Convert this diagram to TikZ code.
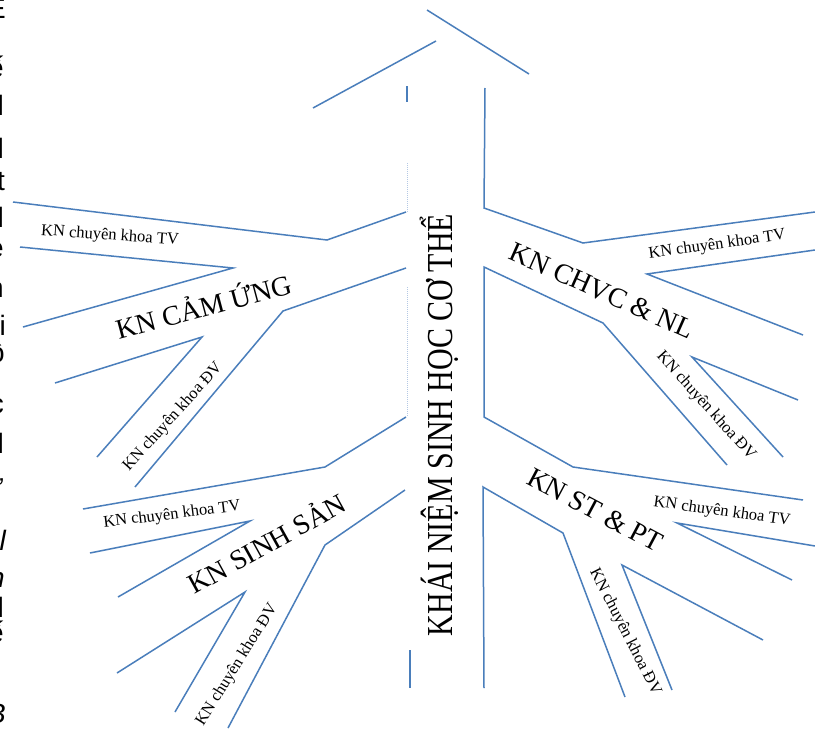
\documentclass[tikz,border=0pt]{standalone}
\usepackage{fontspec}
\setmainfont{Liberation Serif}
\newfontfamily\edgefont{Liberation Sans}
\definecolor{lineblue}{HTML}{4A7EBB}
\definecolor{faintblue}{HTML}{B4C8E4}
\begin{document}
\begin{tikzpicture}[x=1pt,y=-1pt,
  edge/.style={draw=lineblue, line width=1.5pt, line join=miter},
  faint/.style={draw=faintblue, line width=1pt, dash pattern=on 1pt off 1pt},
  small/.style={font=\fontsize{16.5}{18}\selectfont, inner sep=0pt},
  big/.style={font=\fontsize{28}{30}\selectfont, inner sep=0pt},
  edgetxt/.style={font=\edgefont\fontsize{28}{30}\selectfont, anchor=base east, inner sep=0pt}]
\path[use as bounding box, fill=white] (0,0) rectangle (815,731);

% clipped text column at the left edge
\node[edgetxt] (c1) at (6,18) {E};
\node[edgetxt] (c2) at (4,77) {ế};
\node[edgetxt] (c3) at (4,115) {l};
\node[edgetxt] (c4) at (4,158) {l};
\node[edgetxt] (c5) at (5,190) {t};
\node[edgetxt] (c6) at (4,227) {l};
\node[edgetxt] (c7) at (4,257) {e};
\node[edgetxt] (c8) at (4,297) {h};
\node[edgetxt] (c9) at (6,335) {i};
\node[edgetxt] (c10) at (5,362) {ồ};
\node[edgetxt] (c11) at (4,413) {c};
\node[edgetxt] (c12) at (4,453) {l};
\node[edgetxt] (c13) at (4,493) {ứ};
\node[edgetxt,font=\edgefont\itshape\fontsize{28}{30}\selectfont] (c14) at (6,550) {l};
\node[edgetxt,font=\edgefont\itshape\fontsize{28}{30}\selectfont] (c15) at (5,587) {n};
\node[edgetxt] (c16) at (4,617) {l};
\node[edgetxt] (c17) at (4,642) {ế};
\node[edgetxt,font=\edgefont\itshape\fontsize{28}{30}\selectfont] (c18) at (6,723) {B};

% arrow head
\coordinate (hl1) at (313,108); \coordinate (hl2) at (436,41);
\coordinate (hr1) at (427,10);  \coordinate (hr2) at (529,74);
\draw[edge] (hl1) -- (hl2);
\draw[edge] (hr1) -- (hr2);

% left side of shaft
\draw[edge] (407,86) -- (407,102);
\draw[faint] (407,163) -- (407,212);
\draw[faint] (407,287) -- (407,417);
\draw[edge,line width=1.1pt] (410,650) -- (410,688);

% KN CAM UNG branch
\draw[edge] (13,202) -- (327,240) -- (406,212);
\draw[edge] (20,247) -- (233,268) -- (23,327);
\draw[edge] (55,383) -- (202,337) -- (97,457);
\draw[edge] (135,487) -- (283,311) -- (406,268);
% KN SINH SAN branch
\draw[edge] (406,417) -- (325,467) -- (83,509);
\draw[edge] (90,553) -- (250,521) -- (118,597);
\draw[edge] (117,673) -- (245,592) -- (175,712);
\draw[edge] (228,728) -- (325,545) -- (405,490);

% right side: KN CHVC & NL
\draw[edge] (485,88) -- (484,208) -- (583,243) -- (815,212);
\draw[edge] (815,250) -- (647,274) -- (803,335);
\draw[edge] (798,400) -- (692,357) -- (783,457);
\draw[edge] (727,465) -- (603,323) -- (484,267) -- (484,417) -- (573,467) -- (803,500);
% KN ST & PT
\draw[edge] (815,546) -- (677,523) -- (792,580);
\draw[edge] (763,640) -- (622,565) -- (672,690);
\draw[edge] (625,697) -- (563,533) -- (483,487) -- (484,688);

% texts
\node[rotate=90, anchor=base, inner sep=0pt, font=\fontsize{30}{32}\selectfont] (main) at (452,425) {\scalebox{1}[1.22]{KHÁI NIỆM SINH HỌC CƠ THỂ}};

\node[big, rotate=15] (cu) at (203,305) {KN CẢM ỨNG};
\node[big, rotate=29] (ss) at (266,542) {KN SINH SẢN};
\node[big, rotate=-24] (ch) at (602,291) {KN CHVC \& NL};
\node[big, rotate=-28] (st) at (595,510) {KN ST \& PT};

\node[small, rotate=-4] (tv1) at (110,236) {KN chuyên khoa TV};
\node[small, rotate=8] (tv2) at (717,245) {KN chuyên khoa TV};
\node[small, rotate=7] (tv3) at (172,515) {KN chuyên khoa TV};
\node[small, rotate=-8] (tv4) at (722,512) {KN chuyên khoa TV};

\node[small, rotate=48] (dv1) at (173,417) {KN chuyên khoa ĐV};
\node[small, rotate=58] (dv2) at (237,665) {KN chuyên khoa ĐV};
\node[small, rotate=-48] (dv3) at (706,406) {KN chuyên khoa ĐV};
\node[small, rotate=-63] (dv4) at (625,632) {KN chuyên khoa ĐV};
\end{tikzpicture}
\end{document}
